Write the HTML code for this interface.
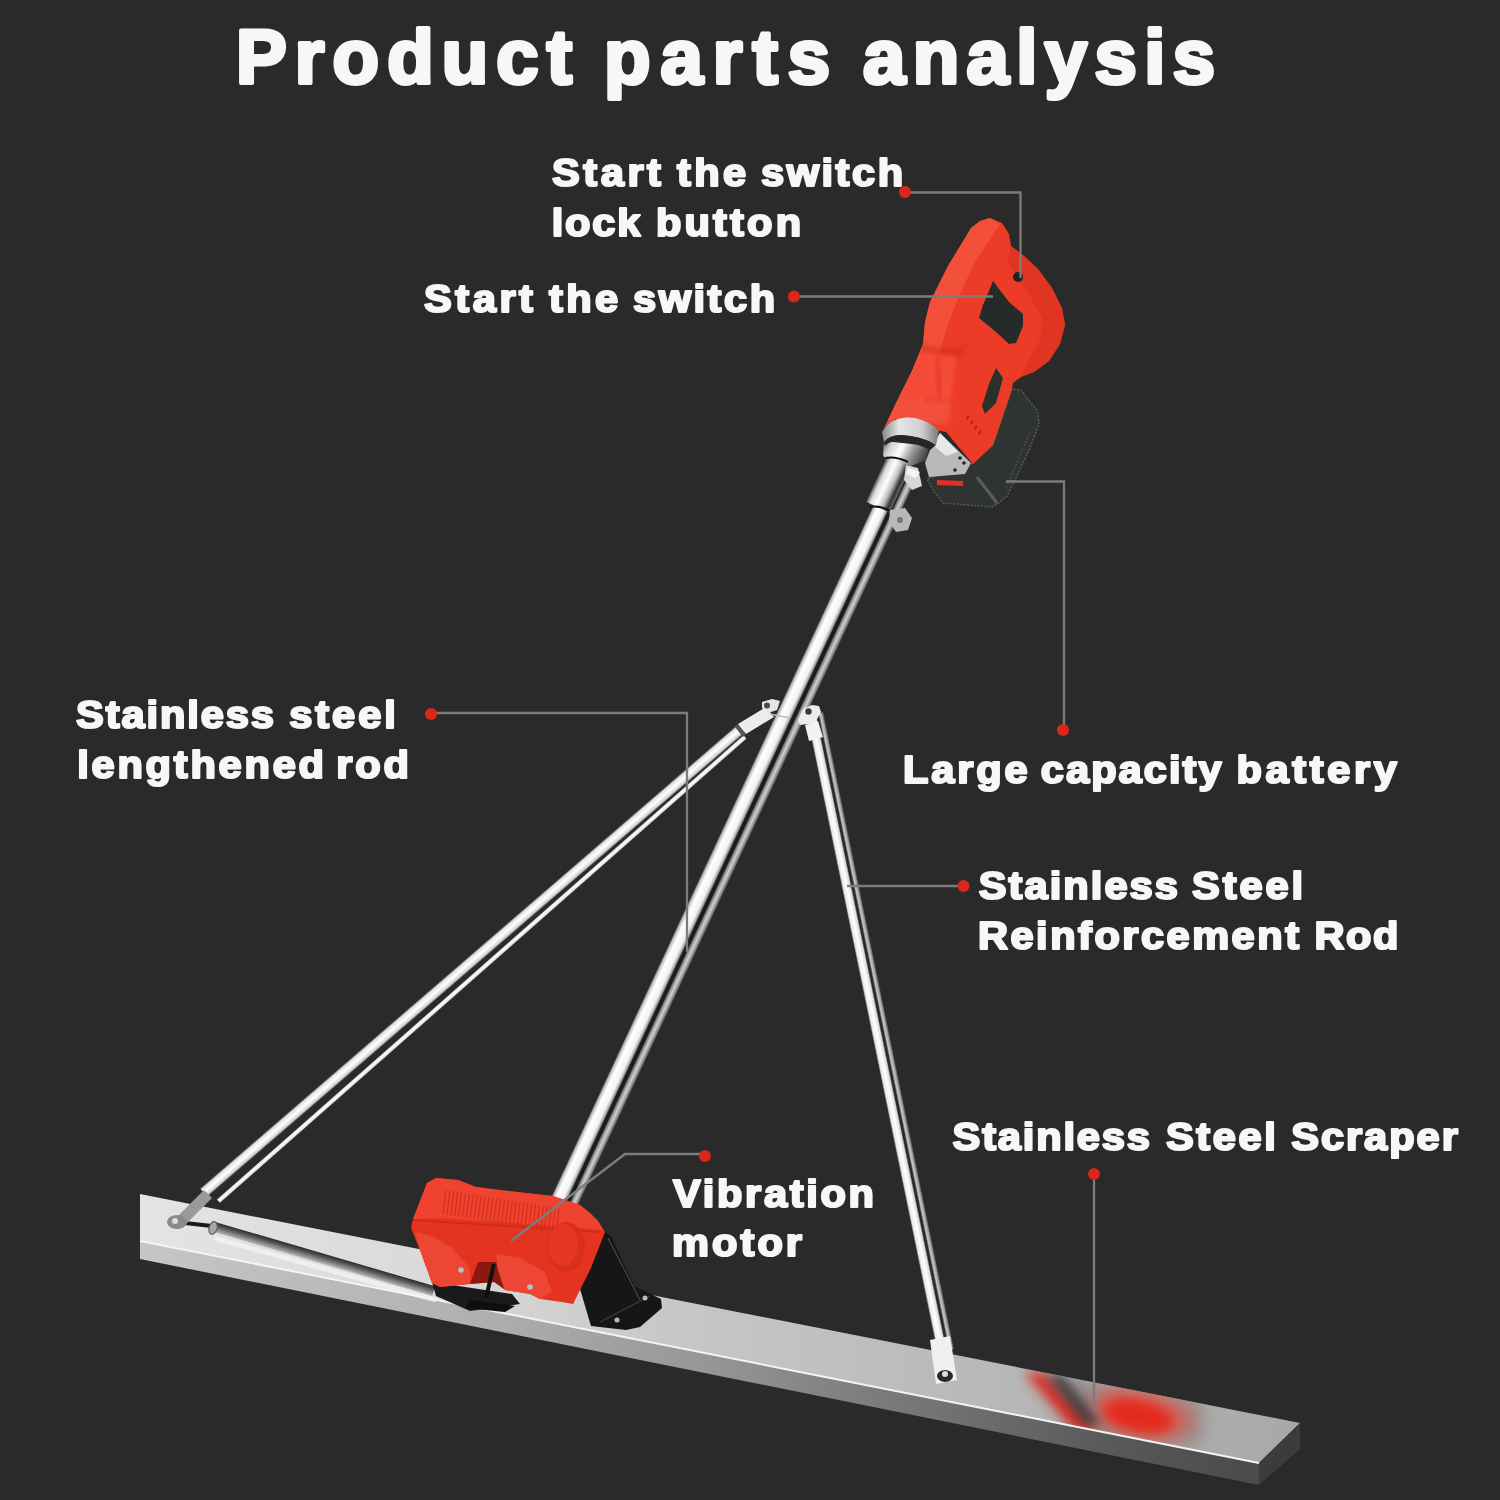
<!DOCTYPE html>
<html><head><meta charset="utf-8">
<style>
html,body{margin:0;padding:0;background:#2a2a2a;width:1500px;height:1500px;overflow:hidden}
svg{display:block;will-change:transform}
.t{font-family:"Liberation Sans",sans-serif;font-weight:bold;fill:#f7f7f7;stroke:#f7f7f7;stroke-width:2.2px;stroke-linejoin:round}
.tt{stroke-width:4px}
</style></head>
<body>
<svg width="1500" height="1500" viewBox="0 0 1500 1500">
<defs>
<linearGradient id="gTop" gradientUnits="userSpaceOnUse" x1="140" y1="0" x2="1300" y2="0">
<stop offset="0" stop-color="#e4e4e4"/><stop offset="0.25" stop-color="#dadada"/><stop offset="0.45" stop-color="#c8c8c8"/><stop offset="0.7" stop-color="#bababa"/><stop offset="1" stop-color="#a8a8a8"/></linearGradient>
<linearGradient id="gFront" gradientUnits="userSpaceOnUse" x1="140" y1="0" x2="1259" y2="0">
<stop offset="0" stop-color="#c6c6c6"/><stop offset="0.28" stop-color="#b2b2b2"/><stop offset="0.5" stop-color="#979797"/><stop offset="0.68" stop-color="#787878"/><stop offset="0.86" stop-color="#5a5a5a"/><stop offset="1" stop-color="#4a4a4a"/></linearGradient>
<linearGradient id="gMain" x1="0" y1="0" x2="1" y2="0">
<stop offset="0" stop-color="#3a3a3a"/><stop offset="0.06" stop-color="#bdbdbd"/><stop offset="0.18" stop-color="#ffffff"/><stop offset="0.42" stop-color="#f2f2f2"/><stop offset="0.52" stop-color="#a8a8a8"/><stop offset="0.58" stop-color="#1c1c1c"/><stop offset="0.68" stop-color="#1c1c1c"/><stop offset="0.74" stop-color="#8a8a8a"/><stop offset="0.84" stop-color="#d0d0d0"/><stop offset="0.94" stop-color="#8a8a8a"/><stop offset="1" stop-color="#3a3a3a"/></linearGradient>
<linearGradient id="gRodU" x1="0" y1="0" x2="1" y2="0">
<stop offset="0" stop-color="#5a5a5a"/><stop offset="0.15" stop-color="#e2e2e2"/><stop offset="0.5" stop-color="#ffffff"/><stop offset="0.85" stop-color="#d2d2d2"/><stop offset="1" stop-color="#505050"/></linearGradient>
<linearGradient id="gRodR" x1="0" y1="0" x2="1" y2="0">
<stop offset="0" stop-color="#606060"/><stop offset="0.08" stop-color="#e8e8e8"/><stop offset="0.3" stop-color="#ffffff"/><stop offset="0.5" stop-color="#d8d8d8"/><stop offset="0.58" stop-color="#2a2a2a"/><stop offset="0.68" stop-color="#2a2a2a"/><stop offset="0.78" stop-color="#c8c8c8"/><stop offset="0.9" stop-color="#a0a0a0"/><stop offset="1" stop-color="#444"/></linearGradient>
<linearGradient id="gRed" x1="0" y1="0" x2="1" y2="1">
<stop offset="0" stop-color="#f4503a"/><stop offset="0.5" stop-color="#e8392a"/><stop offset="1" stop-color="#d42c1e"/></linearGradient>
<linearGradient id="gMotor" x1="0" y1="0" x2="0" y2="1">
<stop offset="0" stop-color="#f04030"/><stop offset="0.5" stop-color="#e83626"/><stop offset="1" stop-color="#d22a1c"/></linearGradient>
<linearGradient id="gSilver" x1="0" y1="0" x2="1" y2="0">
<stop offset="0" stop-color="#777"/><stop offset="0.3" stop-color="#f4f4f4"/><stop offset="0.6" stop-color="#d8d8d8"/><stop offset="1" stop-color="#666"/></linearGradient>
<linearGradient id="gNeck" x1="0" y1="0" x2="1" y2="0.3"><stop offset="0" stop-color="#5a5a5a"/><stop offset="0.2" stop-color="#d0d0d0"/><stop offset="0.45" stop-color="#ffffff"/><stop offset="0.7" stop-color="#9a9a9a"/><stop offset="1" stop-color="#4a4a4a"/></linearGradient>
<linearGradient id="gCollar" x1="0" y1="0" x2="1" y2="0"><stop offset="0" stop-color="#888"/><stop offset="0.3" stop-color="#e6e6e6"/><stop offset="0.7" stop-color="#cfcfcf"/><stop offset="1" stop-color="#777"/></linearGradient>
<linearGradient id="gTube" x1="0" y1="0" x2="1" y2="0"><stop offset="0" stop-color="#555"/><stop offset="0.15" stop-color="#d8d8d8"/><stop offset="0.4" stop-color="#ffffff"/><stop offset="0.65" stop-color="#bdbdbd"/><stop offset="0.85" stop-color="#333"/><stop offset="1" stop-color="#666"/></linearGradient>
<linearGradient id="gLie" x1="0" y1="0" x2="0" y2="1"><stop offset="0" stop-color="#2a2a2a"/><stop offset="0.35" stop-color="#555"/><stop offset="0.7" stop-color="#8a8a8a"/><stop offset="1" stop-color="#b8b8b8"/></linearGradient>
<filter id="b6" x="-50%" y="-50%" width="200%" height="200%"><feGaussianBlur stdDeviation="6"/></filter>
<filter id="b10" x="-50%" y="-50%" width="200%" height="200%"><feGaussianBlur stdDeviation="10"/></filter>
<filter id="b2" x="-50%" y="-50%" width="200%" height="200%"><feGaussianBlur stdDeviation="2"/></filter>
<clipPath id="cHandle"><polygon points="990,218 1002,223 1009,234 1011,246 1024,256 1038,269 1052,288 1062,308 1065,325 1060,344 1049,361 1034,372 1021,377 1013,383 1012,389 993,445 973,464 946,432 936,430 918,421 895,419 884,428 888,420 898,399 912,371 923,344 925,322 930,302 948,266 965,238 971,228 980,221"/></clipPath>
<clipPath id="cTop"><polygon points="140,1194 1300,1423 1259,1463 140,1241"/></clipPath>
</defs>
<rect width="1500" height="1500" fill="#2a2a2a"/>
<!-- PRODUCT -->
<g id="product">
<!-- scraper -->
<polygon points="140,1194 1300,1423 1259,1463 140,1241" fill="url(#gTop)"/>
<polygon points="140,1241 1259,1463 1259,1485 140,1259" fill="url(#gFront)"/>
<polygon points="1259,1463 1300,1423 1300,1449 1259,1485" fill="#3c3c3c"/>
<g clip-path="url(#cTop)">
<polygon points="1040,1372 1200,1400 1200,1445 1080,1440" fill="#7a7070" filter="url(#b10)" opacity="0.6"/>
<ellipse cx="1142" cy="1414" rx="52" ry="24" transform="rotate(12 1142 1414)" fill="#e8584c" filter="url(#b10)" opacity="0.8"/>
<ellipse cx="1138" cy="1416" rx="36" ry="16" transform="rotate(12 1138 1416)" fill="#e42a1e" filter="url(#b6)"/>
<polygon points="1024,1372 1044,1373 1098,1430 1076,1432" fill="#e02a22" filter="url(#b6)"/>
<polygon points="1046,1374 1062,1376 1100,1424 1086,1426" fill="#383838" filter="url(#b6)"/>
</g>
<line x1="140" y1="1241" x2="1259" y2="1463" stroke="#f4f4f4" stroke-width="2"/>
<!-- lying rod on scraper -->
<line x1="214" y1="1238" x2="436" y2="1300" stroke="#f6f6f6" stroke-width="5" opacity="0.7"/>
<line x1="176" y1="1222" x2="212" y2="1226" stroke="#1a1a1a" stroke-width="4"/>
<g transform="translate(211,1226) rotate(16.3)"><rect x="0" y="-5" width="232" height="10" fill="url(#gLie)"/></g>
<ellipse cx="213" cy="1228" rx="4" ry="6.5" transform="rotate(16 213 1228)" fill="#a8a8a8" stroke="#555" stroke-width="1"/>
<!-- left rod -->
<g transform="translate(745,737) rotate(48.6)"><rect x="-2.5" y="0" width="5" height="702" fill="url(#gRodU)"/></g>
<g transform="translate(742,728) rotate(49.2)"><rect x="-5.5" y="0" width="11" height="711" fill="url(#gRodU)"/></g>
<polygon points="204,1190 212,1198 184,1226 172,1222" fill="#9a9a9a"/>
<ellipse cx="177" cy="1222" rx="10" ry="7" fill="#8a8a8a"/>
<circle cx="175" cy="1221" r="3" fill="#dcdcdc"/>
<!-- right rod -->
<g transform="translate(815,714) rotate(-11.6)"><rect x="-8.5" y="0" width="17" height="650" fill="url(#gRodR)"/></g>
<polygon points="930,1340 950,1336 957,1380 936,1384" fill="#f0f0f0"/>
<ellipse cx="945" cy="1376" rx="8" ry="6" fill="#2a2a2a"/>
<circle cx="945" cy="1374" r="3" fill="#ddd"/>
<!-- main rod -->
<g transform="translate(905,470) rotate(24.97)"><rect x="-14" y="0" width="28" height="818" fill="url(#gMain)"/></g><!-- junction fittings -->
<polygon points="738,724 766,707 774,717 746,734" fill="#ececec"/>
<polygon points="738,724 746,734 743,737 735,727" fill="#555"/>
<polygon points="762,702 772,699 780,701 777,710 768,713 762,708" fill="#e6e6e6"/>
<circle cx="767" cy="705.5" r="3" fill="#4a4a4a"/>
<polygon points="798,720 803,709 812,705 819,706 821,712 815,723 800,725" fill="#ededed"/>
<circle cx="808.5" cy="711.5" r="3.2" fill="#3a3a3a"/>
<polygon points="805,725 818,721 823,737 809,741" fill="#f2f2f2"/>
<line x1="770" y1="714" x2="790" y2="718" stroke="#bbb" stroke-width="1.5"/>
<!-- handle -->
<polygon points="973,463 993,445 1012,389 1021,390 1038,412 1039,424 1030,448 1015,480 1007,496 999,503 992,507 943,503 935,493 927,479" fill="#303430" stroke="#575b57" stroke-width="1.5" stroke-dasharray="2 1.5"/>
<line x1="977" y1="477" x2="997" y2="503" stroke="#5a5e5a" stroke-width="3"/>
<line x1="1006" y1="488" x2="1031" y2="430" stroke="#4a4e4a" stroke-width="1.5" stroke-dasharray="2 1.5"/>
<polygon points="990,218 1002,223 1009,234 1011,246 1024,256 1038,269 1052,288 1062,308 1065,325 1060,344 1049,361 1034,372 1021,377 1013,383 1012,389 993,445 973,464 946,432 936,430 918,421 895,419 884,428 888,420 898,399 912,371 923,344 925,322 930,302 948,266 965,238 971,228 980,221" fill="#ec3c28"/>
<polygon points="971,228 980,221 990,218 1000,224 992,236 975,262 958,298 946,330 938,360 930,385 918,415 897,419 888,420 898,399 912,371 923,344 925,322 930,302 948,266 965,238" fill="#f5533d" opacity="0.85"/>
<polygon points="1011,246 1024,256 1038,269 1052,288 1062,308 1065,325 1060,344 1049,361 1034,372 1021,377 1028,360 1040,340 1042,318 1030,296 1018,280 1008,262" fill="#dc3220" opacity="0.7"/>
<g clip-path="url(#cHandle)"><path d="M922,343 Q945,352 968,344 L962,356 Q944,360 919,352 Z" fill="#c92a19" opacity="0.45" filter="url(#b2)"/>
<polygon points="919,353 956,356 951,400 899,398 911,366" fill="#f44c38" filter="url(#b2)"/>
<line x1="937" y1="357" x2="940" y2="398" stroke="#c42616" stroke-width="3" opacity="0.5" filter="url(#b2)"/>
<polygon points="899,400 951,402 949,424 886,424 890,414" fill="#f3503c" filter="url(#b2)"/></g>
<polygon points="993,281 1009,302 1023,314 1023,326 1016,343 1009,344 996,332 979,318 983,305 989,291" fill="#262a28"/>
<polygon points="996,368 1003,378 996,403 985,414 982,406 989,384" fill="#2a302c"/>
<circle cx="1018" cy="277" r="5" fill="#222"/>
<g fill="#b02418"><rect x="968" y="415" width="2" height="4" transform="rotate(30 968 415)"/><rect x="972" y="420" width="2" height="4" transform="rotate(30 972 420)"/><rect x="976" y="425" width="2" height="4" transform="rotate(30 976 425)"/><rect x="980" y="430" width="2" height="4" transform="rotate(30 980 430)"/></g>
<polygon points="940,433 971,463 965,474 929,477 925,463 932,445" fill="#b9b9b9"/>
<polygon points="940,433 958,452 946,456 934,446" fill="#e8e8e8"/>
<circle cx="960" cy="458" r="1.8" fill="#222"/><circle cx="964" cy="463" r="1.8" fill="#222"/><circle cx="955" cy="470" r="1.8" fill="#222"/>
<polygon points="937,480 963,481 963,486 937,485" fill="#e0302a"/>
<!-- neck & collar -->
<polygon points="884,441 929,446 926,460 911,466 887,461 883,455" fill="url(#gNeck)"/>
<g transform="translate(899,462) rotate(24.97)"><rect x="-13" y="0" width="26" height="50" fill="url(#gTube)"/></g>
<path d="M885,458 Q896,456 908,462" stroke="#111" stroke-width="2" fill="none"/>
<path d="M870,507 Q880,505 890,511" stroke="#111" stroke-width="2" fill="none"/>
<path d="M882,432 Q892,415 915,418 Q932,422 939,431 L936,445 Q922,436 900,435 Q888,436 884,442 Z" fill="url(#gCollar)"/>
<path d="M884,442 Q888,436 900,435 Q922,436 936,445 L930,450 Q915,442 898,441 Q889,441 885,446 Z" fill="#262626"/>
<polygon points="906,465 918,468 922,486 912,490 904,480" fill="#d8d8d8"/>
<polygon points="908,468 920,472 916,478 906,474" fill="#f4f4f4"/>
<polygon points="890,510 905,508 912,518 908,530 896,532 889,522" fill="#b8b8b8"/>
<circle cx="900" cy="520" r="3" fill="#777"/>
<!-- motor -->
<polygon points="432,1282 512,1294 520,1304 470,1311 436,1296" fill="#1a1a1a"/>
<polygon points="470,1300 515,1306 505,1312 465,1308" fill="#0e0e0e"/>
<polygon points="580,1289 605,1232 611,1236 634,1286 661,1299 662,1308 640,1327 626,1330 591,1326" fill="#161616"/>
<line x1="608" y1="1238" x2="640" y2="1300" stroke="#555" stroke-width="1"/>
<line x1="600" y1="1322" x2="650" y2="1296" stroke="#333" stroke-width="1.5"/>
<polygon points="427,1183 436,1178 458,1180 476,1187 508,1191 553,1196 562,1199 580,1205 591,1214 598,1221 605,1232 598,1250 591,1268 580,1290 573,1304 562,1302 540,1299 530,1294 505,1290 495,1282 470,1284 440,1287 432,1283 420,1250 411,1228 413,1219 422,1196" fill="#e4331f"/>
<polygon points="478,1262 496,1262 504,1289 494,1282 470,1284" fill="#8a1a10"/>
<polygon points="427,1183 436,1178 458,1180 476,1187 508,1191 553,1196 562,1199 580,1205 591,1214 598,1221 603,1230 560,1226 500,1222 440,1218 413,1219 422,1196" fill="#f0432f"/>
<g stroke="#cc2c1c" stroke-width="1.3" opacity="0.75">
<line x1="446.0" y1="1190.0" x2="443.0" y2="1214.0"/>
<line x1="449.9" y1="1190.6" x2="446.9" y2="1214.6"/>
<line x1="453.8" y1="1191.2" x2="450.8" y2="1215.2"/>
<line x1="457.7" y1="1191.9" x2="454.7" y2="1215.9"/>
<line x1="461.6" y1="1192.5" x2="458.6" y2="1216.5"/>
<line x1="465.5" y1="1193.1" x2="462.5" y2="1217.1"/>
<line x1="469.4" y1="1193.7" x2="466.4" y2="1217.7"/>
<line x1="473.3" y1="1194.4" x2="470.3" y2="1218.4"/>
<line x1="477.2" y1="1195.0" x2="474.2" y2="1219.0"/>
<line x1="481.1" y1="1195.6" x2="478.1" y2="1219.6"/>
<line x1="485.0" y1="1196.2" x2="482.0" y2="1220.2"/>
<line x1="488.9" y1="1196.9" x2="485.9" y2="1220.9"/>
<line x1="492.8" y1="1197.5" x2="489.8" y2="1221.5"/>
<line x1="496.7" y1="1198.1" x2="493.7" y2="1222.1"/>
<line x1="500.6" y1="1198.7" x2="497.6" y2="1222.7"/>
<line x1="504.5" y1="1199.4" x2="501.5" y2="1223.4"/>
<line x1="508.4" y1="1200.0" x2="505.4" y2="1224.0"/>
<line x1="512.3" y1="1200.6" x2="509.3" y2="1224.6"/>
<line x1="516.2" y1="1201.2" x2="513.2" y2="1225.2"/>
<line x1="520.1" y1="1201.9" x2="517.1" y2="1225.9"/>
<line x1="524.0" y1="1202.5" x2="521.0" y2="1226.5"/>
<line x1="527.9" y1="1203.1" x2="524.9" y2="1227.1"/>
<line x1="531.8" y1="1203.7" x2="528.8" y2="1227.7"/>
<line x1="535.7" y1="1204.4" x2="532.7" y2="1228.4"/>
<line x1="539.6" y1="1205.0" x2="536.6" y2="1229.0"/>
<line x1="543.5" y1="1205.6" x2="540.5" y2="1229.6"/>
<line x1="547.4" y1="1206.2" x2="544.4" y2="1230.2"/>
<line x1="551.3" y1="1206.8" x2="548.3" y2="1230.8"/>
<line x1="555.2" y1="1207.5" x2="552.2" y2="1231.5"/>
<line x1="559.1" y1="1208.1" x2="556.1" y2="1232.1"/>
</g>
<line x1="413" y1="1220" x2="600" y2="1232" stroke="#c82a1a" stroke-width="2" opacity="0.7"/>
<ellipse cx="566" cy="1247" rx="19" ry="25" fill="#d82e1c"/>
<ellipse cx="563" cy="1245" rx="15" ry="21" fill="#e63624"/>
<polygon points="415,1232 432,1236 452,1248 470,1268 470,1284 440,1287 432,1283 420,1250" fill="#ee4634"/>
<polygon points="496,1254 520,1258 545,1272 552,1292 540,1299 530,1294 505,1290 498,1270" fill="#ee4634"/>

<circle cx="461" cy="1270" r="2.8" fill="#bdbdbd"/><circle cx="530" cy="1287" r="2.8" fill="#bdbdbd"/>
<line x1="494" y1="1264" x2="486" y2="1298" stroke="#111" stroke-width="4"/>
<circle cx="645" cy="1298" r="2.5" fill="#bbb"/><circle cx="617" cy="1320" r="2.5" fill="#bbb"/>

</g>

<!-- LEADERS -->
<g id="leaders" fill="none" stroke="#7c7c7c" stroke-width="2.3">
<path d="M905,192.5 H1020.5 V278"/>
<path d="M794,296.5 H993"/>
<path d="M1006,481.5 H1064 V731"/>
<path d="M431,713 H687 V952"/>
<path d="M963,886 H847"/>
<path d="M1094,1174 V1412"/>
<path d="M705,1154 H625 L511,1241"/>
</g>
<g id="dots" fill="#d8281c">
<circle cx="905" cy="192" r="6"/>
<circle cx="794" cy="296.5" r="6"/>
<circle cx="1063" cy="730" r="6"/>
<circle cx="431" cy="714" r="6"/>
<circle cx="963.5" cy="886" r="6"/>
<circle cx="1094" cy="1174" r="6"/>
<circle cx="705" cy="1156" r="6"/>
</g>
<!-- TEXT -->
<g id="text">
<text class="t tt" id="title_0" x="236.0" y="83" font-size="76" textLength="336.0" lengthAdjust="spacing">Product</text>
<text class="t tt" id="title_1" x="604.0" y="83" font-size="76" textLength="226.0" lengthAdjust="spacing">parts</text>
<text class="t tt" id="title_2" x="863.0" y="83" font-size="76" textLength="352.0" lengthAdjust="spacing">analysis</text>
<text class="t" id="l1a_0" transform="translate(552.0,0) scale(1.08,1)" x="0" y="186" font-size="38.5" textLength="100.9" lengthAdjust="spacing">Start</text>
<text class="t" id="l1a_1" transform="translate(677.0,0) scale(1.08,1)" x="0" y="186" font-size="38.5" textLength="63.9" lengthAdjust="spacing">the</text>
<text class="t" id="l1a_2" transform="translate(761.0,0) scale(1.08,1)" x="0" y="186" font-size="38.5" textLength="131.5" lengthAdjust="spacing">switch</text>
<text class="t" id="l1b_0" transform="translate(551.8,0) scale(1.08,1)" x="0" y="236" font-size="38.5" textLength="81.9" lengthAdjust="spacing">lock</text>
<text class="t" id="l1b_1" transform="translate(656.0,0) scale(1.08,1)" x="0" y="236" font-size="38.5" textLength="134.3" lengthAdjust="spacing">button</text>
<text class="t" id="l2_0" transform="translate(424.0,0) scale(1.08,1)" x="0" y="312" font-size="38.5" textLength="100.9" lengthAdjust="spacing">Start</text>
<text class="t" id="l2_1" transform="translate(549.0,0) scale(1.08,1)" x="0" y="312" font-size="38.5" textLength="63.9" lengthAdjust="spacing">the</text>
<text class="t" id="l2_2" transform="translate(633.0,0) scale(1.08,1)" x="0" y="312" font-size="38.5" textLength="131.5" lengthAdjust="spacing">switch</text>
<text class="t" id="l3a_0" transform="translate(76.0,0) scale(1.08,1)" x="0" y="728" font-size="38.5" textLength="183.3" lengthAdjust="spacing">Stainless</text>
<text class="t" id="l3a_1" transform="translate(289.2,0) scale(1.08,1)" x="0" y="728" font-size="38.5" textLength="98.7" lengthAdjust="spacing">steel</text>
<text class="t" id="l3b_0" transform="translate(77.2,0) scale(1.08,1)" x="0" y="778" font-size="38.5" textLength="228.5" lengthAdjust="spacing">lengthened</text>
<text class="t" id="l3b_1" transform="translate(336.2,0) scale(1.08,1)" x="0" y="778" font-size="38.5" textLength="67.4" lengthAdjust="spacing">rod</text>
<text class="t" id="l4_0" transform="translate(903.0,0) scale(1.08,1)" x="0" y="783" font-size="38.5" textLength="115.4" lengthAdjust="spacing">Large</text>
<text class="t" id="l4_1" transform="translate(1040.8,0) scale(1.08,1)" x="0" y="783" font-size="38.5" textLength="167.4" lengthAdjust="spacing">capacity</text>
<text class="t" id="l4_2" transform="translate(1236.6,0) scale(1.08,1)" x="0" y="783" font-size="38.5" textLength="148.5" lengthAdjust="spacing">battery</text>
<text class="t" id="l5a_0" transform="translate(978.8,0) scale(1.08,1)" x="0" y="899" font-size="38.5" textLength="184.4" lengthAdjust="spacing">Stainless</text>
<text class="t" id="l5a_1" transform="translate(1192.0,0) scale(1.08,1)" x="0" y="899" font-size="38.5" textLength="102.8" lengthAdjust="spacing">Steel</text>
<text class="t" id="l5b_0" transform="translate(978.0,0) scale(1.08,1)" x="0" y="949" font-size="38.5" textLength="297.2" lengthAdjust="spacing">Reinforcement</text>
<text class="t" id="l5b_1" transform="translate(1314.6,0) scale(1.08,1)" x="0" y="949" font-size="38.5" textLength="77.6" lengthAdjust="spacing">Rod</text>
<text class="t" id="l6_0" transform="translate(952.6,0) scale(1.08,1)" x="0" y="1150" font-size="38.5" textLength="182.6" lengthAdjust="spacing">Stainless</text>
<text class="t" id="l6_1" transform="translate(1166.0,0) scale(1.08,1)" x="0" y="1150" font-size="38.5" textLength="101.7" lengthAdjust="spacing">Steel</text>
<text class="t" id="l6_2" transform="translate(1291.2,0) scale(1.08,1)" x="0" y="1150" font-size="38.5" textLength="154.3" lengthAdjust="spacing">Scraper</text>
<text class="t" id="l7a_0" transform="translate(673.0,0) scale(1.08,1)" x="0" y="1207" font-size="38.5" textLength="186.1" lengthAdjust="spacing">Vibration</text>
<text class="t" id="l7b_0" transform="translate(672.0,0) scale(1.08,1)" x="0" y="1256" font-size="38.5" textLength="120.4" lengthAdjust="spacing">motor</text>
</g>
</svg>
</body></html>
